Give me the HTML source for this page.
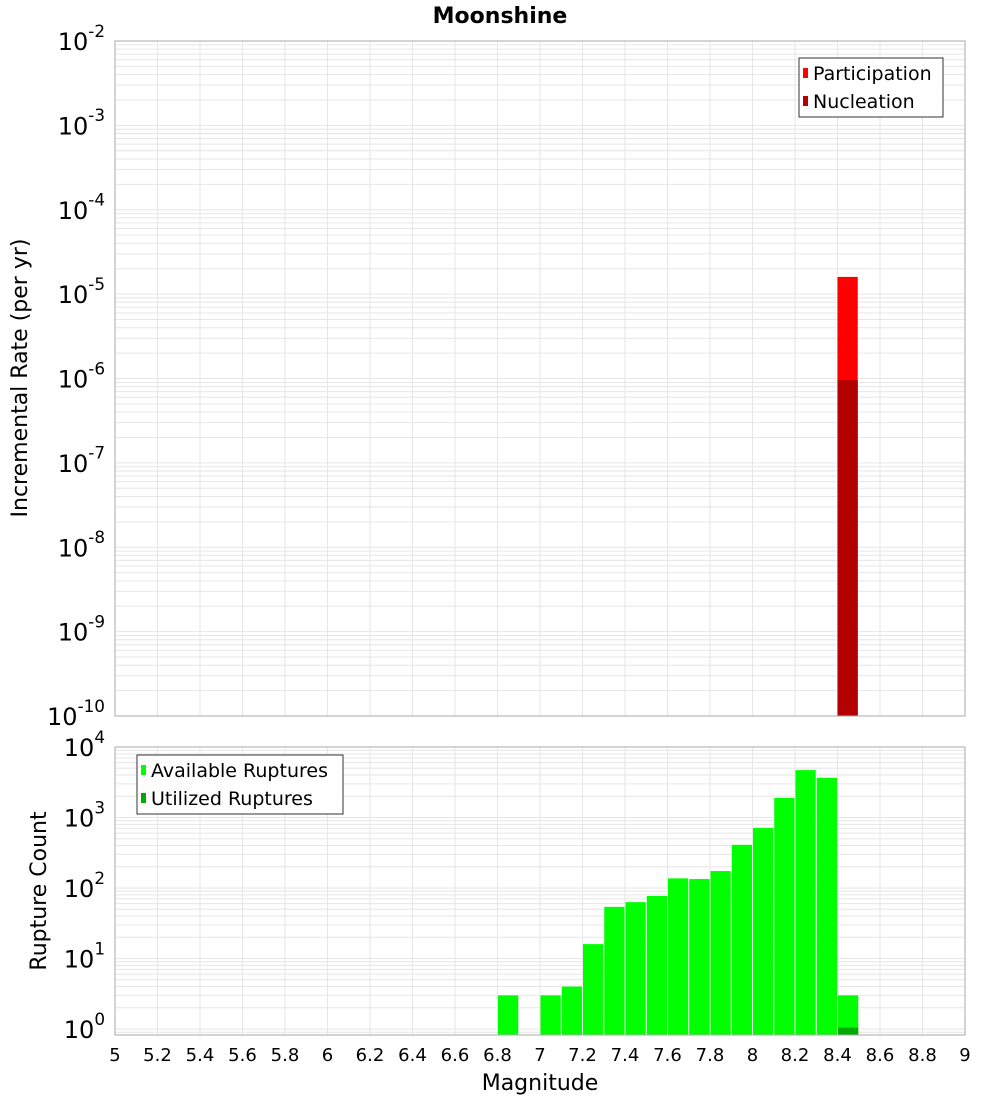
<!DOCTYPE html>
<html><head><meta charset="utf-8"><style>
body{margin:0;background:#fff;width:1000px;height:1100px;overflow:hidden}
svg{font-family:"DejaVu Sans","Liberation Sans",sans-serif}
</style></head><body>
<svg id="c" width="1000" height="1100" xmlns="http://www.w3.org/2000/svg">
<text x="500" y="23" text-anchor="middle" font-size="22" font-weight="bold">Moonshine</text>
</svg>
<script>
const rateMags=[8.4];
const participation=[1.6e-5];
const nucleation=[9.6e-7];
const countMags=[6.8,7.0,7.1,7.2,7.3,7.4,7.5,7.6,7.7,7.8,7.9,8.0,8.1,8.2,8.3,8.4];
const available=[3,3,4,16,54,63,77,137,134,174,410,710,1900,4700,3650,3];
const utilizedMags=[8.4];
const utilized=[1.05];
const xTicks=[5,5.2,5.4,5.6,5.8,6,6.2,6.4,6.6,6.8,7,7.2,7.4,7.6,7.8,8,8.2,8.4,8.6,8.8,9];

const NS="http://www.w3.org/2000/svg";
const svg=document.getElementById('c');
function mk(t,a,p){const e=document.createElementNS(NS,t);for(const k in a)e.setAttribute(k,a[k]);(p||svg).appendChild(e);return e;}
const X0=115,X1=965;
const xs=m=>X0+(m-5)/4*(X1-X0);

function panel(top,bot,lmin,lmax,name){
  const ys=v=>bot-(Math.log10(v)-lmin)/(lmax-lmin)*(bot-top);
  const g=mk('g',{});
  
  
  for(let d=Math.floor(lmin);d<lmax;d++){
    for(let k=1;k<10;k++){const v=Math.pow(10,d)*k;const lv=Math.log10(v);if(lv<lmin||lv>lmax)continue;
      const y=ys(v);mk('line',{x1:X0,x2:X1,y1:y,y2:y,stroke:'#e6e6e6','stroke-width':1},g);}
  }
  xTicks.forEach(t=>{const x=xs(t);mk('line',{x1:x,x2:x,y1:top,y2:bot,stroke:'#e6e6e6','stroke-width':1},g);});
  return ys;
}
function frame(top,bot,name){
  const r=mk('rect',{x:X0,y:top,width:X1-X0,height:bot-top,fill:'none',stroke:'#aaa','stroke-width':1});
  
  
}
function ylabels(ys,lmin,lmax,fs,name){
  for(let d=Math.ceil(lmin);d<=lmax;d++){
    const y=ys(Math.pow(10,d));
    const t=mk('text',{x:105,y:y+9,'text-anchor':'end','font-size':fs});
    
    
    t.textContent='10';
    const s=mk('tspan',{dy:-fs*0.55,'font-size':fs*0.7},t);
    s.textContent=String(d);
  }
}
// top panel
const T0=41,T1=716;
const ysT=panel(T0,T1,-10,-2,'rate');
const bw=(xs(5.1)-xs(5))-1;
rateMags.forEach((m,i)=>{
  const r=mk('rect',{x:xs(m),y:ysT(participation[i]),width:bw,height:T1-ysT(participation[i]),fill:'#ff0000'});
  
  
  const n=mk('rect',{x:xs(m),y:ysT(nucleation[i]),width:bw,height:T1-ysT(nucleation[i]),fill:'#b30000'});
  
  
});
frame(T0,T1,'rate');
ylabels(ysT,-10,-2,24,'rate-y');
let yt=mk('text',{x:0,y:0,transform:'translate(27,378) rotate(-90)','text-anchor':'middle','font-size':22});


yt.textContent='Incremental Rate (per yr)';

// bottom panel
const B0=747,B1=1035;
const lminB=-6/70.5;
const ysB=panel(B0,B1,lminB,4,'count');
countMags.forEach((m,i)=>{
  const r=mk('rect',{x:xs(m)+0.5,y:ysB(available[i]),width:bw,height:B1-ysB(available[i]),fill:'#00ff00'});
  
  
});
utilizedMags.forEach((m,i)=>{
  const r=mk('rect',{x:xs(m)+0.5,y:ysB(utilized[i]),width:bw,height:B1-ysB(utilized[i]),fill:'#00aa00'});
  
  
});
frame(B0,B1,'count');
ylabels(ysB,0,4,24,'count-y');
yt=mk('text',{x:0,y:0,transform:'translate(46,891) rotate(-90)','text-anchor':'middle','font-size':22});


yt.textContent='Rupture Count';
xTicks.forEach(t=>{
  const e=mk('text',{x:xs(t),y:1061,'text-anchor':'middle','font-size':18});
  
  
  e.textContent=String(t);
});
const xt=mk('text',{x:540,y:1090,'text-anchor':'middle','font-size':22});


xt.textContent='Magnitude';

// legends
function legend(x,y,w,h,items,name){
  const g=mk('g',{});
  
  
  mk('rect',{x:x,y:y,width:w,height:h,fill:'#fff',stroke:'#333','stroke-width':1},g);
  items.forEach((it,i)=>{
    const cy=y+15+i*28;
    mk('rect',{x:x+4,y:cy-5,width:5,height:10,fill:it[1]},g);
    const t=mk('text',{x:x+14,y:cy+7,'font-size':19},g);
    
    
    t.textContent=it[0];
  });
}
legend(799,58,144,59,[['Participation','#ff0000'],['Nucleation','#b30000']],'rate-legend');
legend(137,755,206,59,[['Available Ruptures','#00ff00'],['Utilized Ruptures','#00aa00']],'count-legend');
</script>
</body></html>
